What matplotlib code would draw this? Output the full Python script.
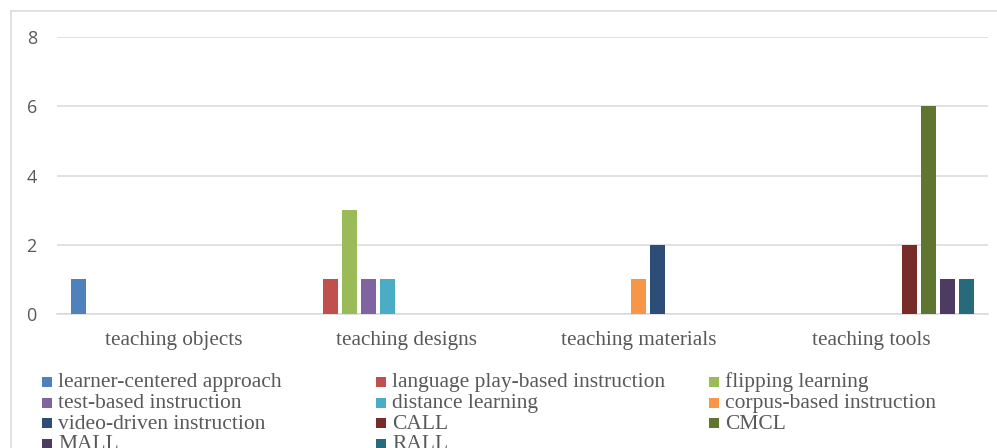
import matplotlib
matplotlib.use("Agg")
import matplotlib.pyplot as plt
from matplotlib.patches import Rectangle
from matplotlib.lines import Line2D
import numpy as np

categories = ["teaching objects", "teaching designs", "teaching materials", "teaching tools"]
series_names = [
    "learner-centered approach", "language play-based instruction", "flipping learning",
    "test-based instruction", "distance learning", "corpus-based instruction",
    "video-driven instruction", "CALL", "CMCL", "MALL", "RALL",
]
learner_centered = [1, 0, 0, 0]
language_play = [0, 1, 0, 0]
flipping = [0, 3, 0, 0]
test_based = [0, 1, 0, 0]
distance = [0, 1, 0, 0]
corpus_based = [0, 0, 1, 0]
video_driven = [0, 0, 2, 0]
call_vals = [0, 0, 0, 2]
cmcl_vals = [0, 0, 0, 6]
mall_vals = [0, 0, 0, 1]
rall_vals = [0, 0, 0, 1]
series_values = [learner_centered, language_play, flipping, test_based, distance,
                 corpus_based, video_driven, call_vals, cmcl_vals, mall_vals, rall_vals]
colors = ["#4F81BD", "#C0504D", "#9BBB59", "#8064A2", "#4BACC6", "#F79646",
          "#2C4D75", "#772C2A", "#5F7530", "#4D3B62", "#276A7C"]
yticks = [0, 2, 4, 6, 8]

W, H = 997, 448
fig = plt.figure(figsize=(W / 100, H / 100), dpi=100)
fig.patch.set_facecolor("white")

ax = fig.add_axes([57 / W, (H - 314) / H, (988 - 57) / W, (314 - 37) / H])
x = np.arange(len(categories))
n = len(series_names)
step = 0.0812
width = 0.0645
for i, (vals, c) in enumerate(zip(series_values, colors)):
    ax.bar(x + (i - (n - 1) / 2) * step, vals, width=width, color=c, zorder=3)

ax.set_xlim(-0.5, len(categories) - 0.5)
ax.set_ylim(0, 8)
ax.set_yticks(yticks)
ax.set_yticklabels([str(t) for t in yticks], fontfamily="Open Sans", fontsize=13, color="#595959")
ax.set_xticks(x)
ax.set_xticklabels(categories, fontfamily="Liberation Serif", fontsize=15.3, color="#595959")
ax.tick_params(axis="y", length=0, pad=14.5)
ax.tick_params(axis="x", length=0, pad=12)
ax.grid(axis="y", color="#D9D9D9", linewidth=1.1, zorder=0)
ax.set_axisbelow(True)
for s in ["top", "right", "left"]:
    ax.spines[s].set_visible(False)
ax.spines["bottom"].set_color("#D9D9D9")
ax.spines["bottom"].set_linewidth(1.1)

# outer chart frame (top & left edges visible)
def fx(px):
    return px / W

def fy(py):
    return 1 - py / H

fig.add_artist(Line2D([fx(11), fx(1000)], [fy(11), fy(11)], color="#D9D9D9", linewidth=1.1))
fig.add_artist(Line2D([fx(11), fx(11)], [fy(11), fy(460)], color="#D9D9D9", linewidth=1.1))

# legend (3 columns, row-major)
col_sw = [42, 376, 709]
row_c = [382, 402.5, 423, 443.5]
for i, (name, c) in enumerate(zip(series_names, colors)):
    r, cidx = divmod(i, 3)
    sx = col_sw[cidx]
    cy = row_c[r]
    fig.add_artist(Rectangle((fx(sx), fy(cy + 5)), 10 / W, 10 / H, facecolor=c,
                             edgecolor="none", transform=fig.transFigure))
    fig.text(fx(sx + 16), fy(cy + 5.5), name, fontfamily="Liberation Serif",
             fontsize=15.5, color="#595959", va="baseline", ha="left")

fig.savefig("out.png", dpi=100)
